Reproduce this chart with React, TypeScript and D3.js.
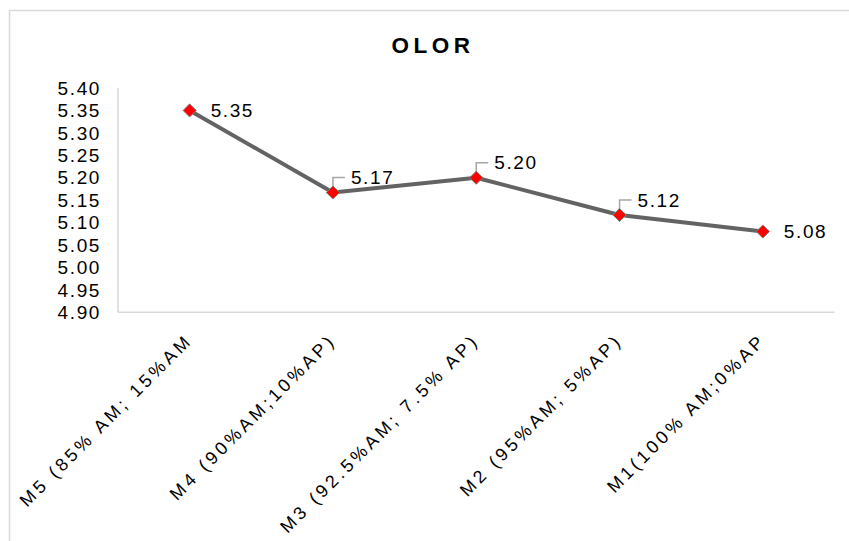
import React from "react";
import * as d3 from "d3";

const categories = [
  "M5 (85% AM; 15%AM",
  "M4 (90%AM;10%AP)",
  "M3 (92.5%AM; 7.5% AP)",
  "M2 (95%AM; 5%AP)",
  "M1(100% AM;0%AP",
];
const values = [5.35, 5.167, 5.2, 5.117, 5.08];
const yTicks = [4.9, 4.95, 5.0, 5.05, 5.1, 5.15, 5.2, 5.25, 5.3, 5.35, 5.4];
const leader = [false, true, true, true, false];
const title = "OLOR";

const W = 849;
const H = 541;
const plot = { left: 118, right: 834.5, top: 88, bottom: 312.3 };
const FONT = "'Liberation Sans', Arial, sans-serif";

export default function App() {
  const x = d3
    .scaleBand<string>()
    .domain(categories)
    .range([plot.left, plot.right]);
  const y = d3.scaleLinear().domain([4.9, 5.4]).range([plot.bottom, plot.top]);
  const cx = (c: string) => (x(c) as number) + x.bandwidth() / 2;
  const line = d3
    .line<number>()
    .x((_, i) => cx(categories[i]))
    .y((d) => y(d));

  return (
    <svg
      width={W}
      height={H}
      style={{ position: "absolute", left: 0, top: 0, background: "#fff" }}
      fontFamily={FONT}
    >
      <rect x={9.5} y={10.5} width={W + 10} height={H + 10} fill="#fff" stroke="#d9d9d9" strokeWidth={1.5} />
      <text
        x={433}
        y={52.5}
        textAnchor="middle"
        fontSize={22.5}
        fontWeight="bold"
        letterSpacing={4.5}
        fill="#000"
      >
        {title}
      </text>
      {/* axes */}
      <line x1={plot.left} x2={plot.left} y1={plot.top} y2={plot.bottom} stroke="#d9d9d9" strokeWidth={1.5} />
      <line x1={plot.left} x2={plot.right} y1={plot.bottom} y2={plot.bottom} stroke="#d9d9d9" strokeWidth={1.5} />
      {yTicks.map((t) => (
        <text
          key={t}
          x={101}
          y={y(t)}
          dy="0.35em"
          textAnchor="end"
          fontSize={19}
          letterSpacing={1.6}
          fill="#000"
        >
          {t.toFixed(2)}
        </text>
      ))}
      {categories.map((c) => (
        <text
          key={c}
          transform={`translate(${cx(c) + 4},${plot.bottom + 29}) rotate(-45)`}
          textAnchor="end"
          fontSize={18}
          letterSpacing={3.5}
          fill="#000"
        >
          {c}
        </text>
      ))}
      <path d={line(values) ?? ""} fill="none" stroke="#636363" strokeWidth={4} strokeLinejoin="round" />
      {values.map((v, i) => {
        const px = cx(categories[i]);
        const py = y(v);
        return (
          <g key={i}>
            {leader[i] && (
              <polyline
                points={`${px},${py - 5} ${px},${py - 15} ${px + 12},${py - 15}`}
                fill="none"
                stroke="#a6a6a6"
                strokeWidth={1.5}
              />
            )}
            <path
              d={d3.symbol(d3.symbolDiamond2 ?? d3.symbolSquare, 110)() ?? ""}
              transform={`translate(${px},${py}) rotate(${d3.symbolDiamond2 ? 0 : 45})`}
              fill="#ff0000"
              stroke="#7f7f7f"
              strokeWidth={1}
            />
            <text
              x={leader[i] ? px + 18 : px + 21}
              y={leader[i] ? py - 15 : py}
              dy="0.35em"
              fontSize={19}
              letterSpacing={1.6}
              fill="#000"
            >
              {v.toFixed(2)}
            </text>
          </g>
        );
      })}
    </svg>
  );
}
